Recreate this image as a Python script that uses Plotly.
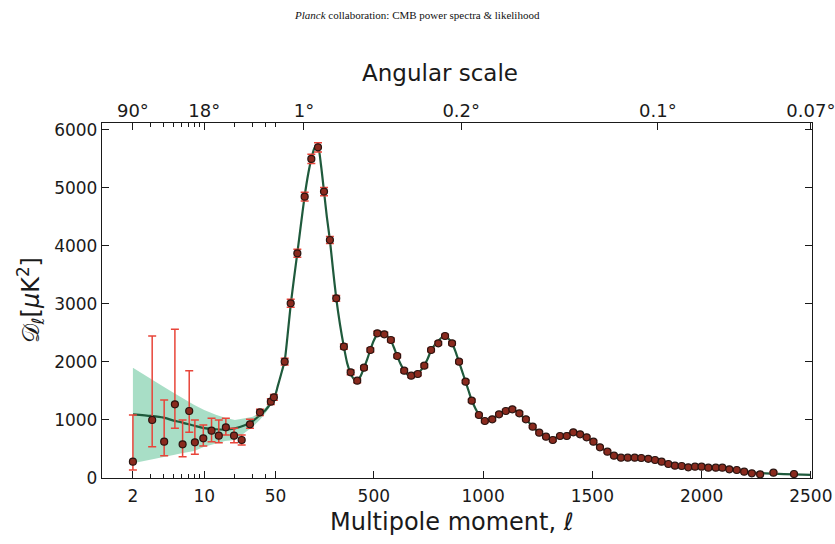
import numpy as np
import plotly.graph_objects as go

# ---------------- data ----------------
# low-ell points (asymmetric errors)
ell_low = [2, 3.09, 4.05, 5.16, 6.14, 7.13, 8.1, 9.8, 11.8, 13.9, 16.3, 19.6, 23.3, 28.1, 35.2, 45, 48.2]
D_low = [281, 1000, 626, 1270, 580, 1155, 615, 684, 816, 730, 874, 730, 655, 925, 1132, 1316, 1391]
err_low_plus = [805, 1448, 719, 1293, 420, 695, 385, 230, 213, 270, 155, 126, 86, 86, 55, 50, 50]
err_low_minus = [141, 460, 241, 414, 212, 365, 207, 132, 190, 121, 133, 121, 86, 69, 55, 50, 50]

# binned high-ell points
ell_high = [92, 119.5, 150, 183.5, 214, 244.5, 272, 299, 328, 363, 394, 424, 455, 484, 516, 548, 578,
            607, 639, 671, 701, 731, 762, 795, 826, 858, 890, 920, 948, 981, 1008, 1042, 1073, 1104,
            1134, 1166, 1196, 1227, 1257, 1288, 1319, 1352, 1383, 1413, 1444, 1474, 1505, 1535, 1569,
            1599, 1631, 1662, 1694, 1724, 1756, 1787, 1817, 1848, 1878, 1909, 1939, 1970, 2000, 2031,
            2065, 2095, 2127, 2161, 2195, 2230, 2268, 2329, 2423]
D_high = [2006, 3012, 3874, 4850, 5500, 5701, 4937, 4103, 3098, 2264, 1822, 1678, 1902, 2207, 2494,
          2477, 2379, 2103, 1850, 1764, 1793, 1936, 2207, 2322, 2448, 2322, 2006, 1661, 1333, 1086,
          983, 1012, 1098, 1155, 1184, 1115, 1012, 885, 781, 712, 655, 724, 724, 788, 753, 701, 626,
          529, 454, 385, 350, 350, 350, 345, 330, 310, 281, 241, 212, 207, 184, 195, 195, 178, 178,
          178, 150, 138, 109, 81, 64, 91, 69]
err_high = [60, 70, 70, 75, 80, 80, 70, 60, 50, 45, 40, 35, 35, 35, 35, 35, 35, 30, 30, 30, 30, 30,
            30, 30, 30, 30, 30, 25, 25, 25, 25, 25, 25, 25, 25, 25, 25, 20, 20, 20, 20, 20, 20, 20,
            20, 20, 20, 20, 20, 20, 15, 15, 15, 15, 15, 15, 15, 15, 15, 15, 15, 15, 15, 15, 15, 15,
            15, 15, 15, 15, 15, 15, 15]

# best-fit model curve
ell_th = [2, 3, 4, 5, 6, 8, 10, 13, 16, 20, 25, 30, 35, 40, 45, 50, 60, 75, 92, 105, 120, 135, 150,
          165, 183, 200, 214, 230, 245, 258, 272, 285, 299, 313, 328, 345, 363, 378, 394, 410, 424,
          440, 455, 470, 484, 500, 516, 532, 548, 563, 578, 592, 607, 623, 639, 655, 671, 686, 701,
          716, 731, 747, 762, 778, 795, 810, 826, 842, 858, 874, 890, 905, 920, 934, 948, 965, 981,
          995, 1008, 1025, 1042, 1057, 1073, 1090, 1104, 1120, 1134, 1150, 1166, 1180, 1196, 1212,
          1227, 1242, 1257, 1272, 1288, 1303, 1319, 1335, 1352, 1368, 1383, 1398, 1413, 1429, 1444,
          1460, 1474, 1490, 1505, 1520, 1535, 1552, 1569, 1585, 1599, 1615, 1631, 1662, 1694, 1724,
          1756, 1787, 1817, 1848, 1878, 1909, 1939, 1970, 2000, 2031, 2065, 2095, 2127, 2161, 2195,
          2230, 2268, 2329, 2423, 2500]
D_th = [1098, 1070, 1040, 990, 960, 900, 860, 840, 835, 856, 910, 983, 1080, 1172, 1290, 1440, 1580,
        1780, 2020, 2450, 3000, 3450, 3880, 4330, 4850, 5250, 5500, 5700, 5700, 5400, 4940, 4500,
        4100, 3600, 3100, 2650, 2260, 1980, 1800, 1700, 1680, 1760, 1900, 2050, 2210, 2370, 2480,
        2510, 2480, 2440, 2370, 2250, 2100, 1960, 1850, 1780, 1760, 1770, 1800, 1860, 1940, 2060,
        2200, 2290, 2360, 2420, 2440, 2400, 2320, 2180, 2000, 1830, 1660, 1500, 1340, 1200, 1090,
        1020, 990, 995, 1025, 1060, 1100, 1140, 1165, 1180, 1180, 1155, 1110, 1060, 1010, 950, 885,
        830, 780, 740, 710, 690, 685, 700, 720, 740, 760, 775, 780, 770, 750, 725, 695, 660, 620,
        575, 530, 490, 450, 415, 390, 370, 355, 348, 345, 340, 330, 310, 285, 255, 228, 210, 198,
        193, 190, 183, 175, 165, 150, 135, 115, 98, 85, 75, 62, 55]

# cosmic-variance band at low ell
ell_band = [2, 3, 4, 5, 6, 8, 10, 13, 16, 20, 25, 30, 35, 40, 45, 50, 60]
band_hi = [1902, 1719, 1575, 1471, 1385, 1259, 1172, 1090, 1040, 1000, 1030, 1057, 1130, 1215, 1330, 1490, 1620]
band_lo = [253, 322, 368, 397, 425, 466, 540, 600, 640, 655, 780, 885, 1000, 1120, 1250, 1410, 1530]

# axis ticks
bottom_ticks = [2, 10, 50, 500, 1000, 1500, 2000, 2500]
bottom_minor = [3, 4, 5, 6, 7, 8, 9, 20, 30, 40]
top_tick_ell = [2, 10, 180, 900, 1800, 2500]
top_tick_text = ["90°", "18°", "1°", "0.2°", "0.1°", "0.07°"]
top_minor = [3, 4, 5, 6, 7, 8, 9, 20, 30, 40, 50]
y_ticks = [0, 1000, 2000, 3000, 4000, 5000, 6000]


# hybrid scale: log for ell <= 50, linear above
def to_u(ell):
    ell = np.asarray(ell, dtype=float)
    return np.where(ell <= 50, 102.0 * np.log10(ell / 50.0), 0.2185 * (ell - 50.0))


XR = [-173.5, 536.5]
FONT = "DejaVu Sans"
TXT = "#1a1a1a"
LINE_COL = "#1f5a3c"
BAND_COL = "rgba(110,200,160,0.6)"
ERR_COL = "#e8453a"
PT_COL = "#8a2a1e"

fig = go.Figure()

fig.add_trace(go.Scatter(x=to_u(ell_band), y=band_lo, mode="lines", line=dict(width=0),
                         hoverinfo="skip", showlegend=False))
fig.add_trace(go.Scatter(x=to_u(ell_band), y=band_hi, mode="lines", line=dict(width=0),
                         fill="tonexty", fillcolor=BAND_COL, hoverinfo="skip", showlegend=False))

fig.add_trace(go.Scatter(x=to_u(ell_th), y=D_th, mode="lines",
                         line=dict(color=LINE_COL, width=2.2, shape="spline", smoothing=0.6),
                         showlegend=False))

fig.add_trace(go.Scatter(
    x=to_u(ell_low), y=D_low, mode="markers",
    error_y=dict(type="data", symmetric=False, array=err_low_plus, arrayminus=err_low_minus,
                 color=ERR_COL, thickness=1.5, width=4),
    marker=dict(size=7, color=PT_COL, line=dict(color="#2a1410", width=1.2)),
    showlegend=False))

fig.add_trace(go.Scatter(
    x=to_u(ell_high), y=D_high, mode="markers",
    error_y=dict(type="data", array=err_high, color=ERR_COL, thickness=1.5, width=4),
    marker=dict(size=7, color=PT_COL, line=dict(color="#2a1410", width=1.2)),
    showlegend=False))

# invisible trace so the top axis is drawn
fig.add_trace(go.Scatter(x=to_u([2, 2500]), y=[None, None], xaxis="x2", mode="markers",
                         showlegend=False, hoverinfo="skip"))

tickfont = dict(family=FONT, size=17, color=TXT)

fig.update_layout(
    width=835, height=544,
    margin=dict(l=102, r=23, t=123, b=66),
    paper_bgcolor="white", plot_bgcolor="white",
    xaxis=dict(range=XR, tickmode="array", tickvals=to_u(bottom_ticks),
               ticktext=[str(v) for v in bottom_ticks], ticks="inside", ticklen=7,
               tickcolor=TXT, tickwidth=1.2, showgrid=False, zeroline=False,
               showline=True, linecolor=TXT, linewidth=1.3, mirror=True,
               tickfont=tickfont, automargin=False, ticklabelstandoff=2,
               ticklabeloverflow="allow",
               minor=dict(tickmode="array", tickvals=to_u(bottom_minor), ticks="inside",
                          ticklen=4, tickcolor=TXT, tickwidth=1, showgrid=False)),
    xaxis2=dict(range=XR, overlaying="x", side="top", tickmode="array",
                tickvals=to_u(top_tick_ell), ticktext=top_tick_text, ticks="inside",
                ticklen=7, tickcolor=TXT, tickwidth=1.2, showgrid=False, zeroline=False,
                tickfont=dict(family=FONT, size=18, color=TXT), automargin=False,
                ticklabelstandoff=1, ticklabeloverflow="allow",
                minor=dict(tickmode="array", tickvals=to_u(top_minor), ticks="inside",
                           ticklen=4, tickcolor=TXT, tickwidth=1, showgrid=False)),
    yaxis=dict(range=[0, 6120], tickmode="array", tickvals=y_ticks,
               ticks="inside", ticklen=7, tickcolor=TXT, tickwidth=1.2,
               showgrid=False, zeroline=False, showline=True, linecolor=TXT,
               linewidth=1.3, mirror="ticks", tickfont=tickfont, automargin=False),
    annotations=[
        dict(text="<i>Planck</i> collaboration: CMB power spectra & likelihood",
             xref="paper", yref="paper", x=0.4437, y=1.304, xanchor="center",
             yanchor="middle", showarrow=False,
             font=dict(family="Liberation Serif", size=11, color="#111")),
        dict(text="Angular scale", xref="paper", yref="paper", x=0.476, y=1.141,
             xanchor="center", yanchor="middle", showarrow=False,
             font=dict(family=FONT, size=23, color=TXT)),
        dict(text="Multipole moment, <i>ℓ</i>", xref="paper", yref="paper", x=0.493,
             y=-0.124, xanchor="center", yanchor="middle", showarrow=False,
             font=dict(family=FONT, size=24, color=TXT)),
        dict(text="𝒟<sub>ℓ</sub>[<i>μ</i>K<sup>2</sup>]", xref="paper", yref="paper",
             x=-0.101, y=0.501, xanchor="center", yanchor="middle", textangle=-90,
             showarrow=False, font=dict(family=FONT, size=24, color=TXT)),
    ],
)

fig.write_html("out.html")
